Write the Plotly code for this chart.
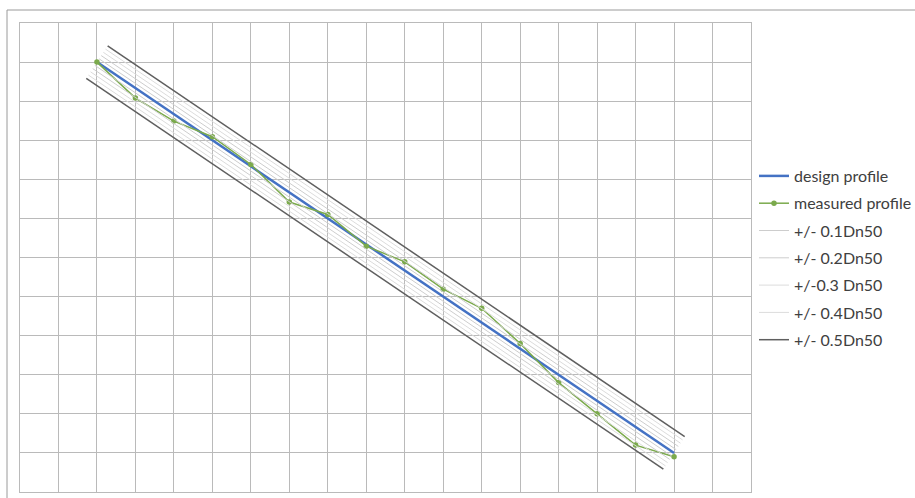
import math
import plotly.graph_objects as go

# ---- data ----
stations = [2, 3, 4, 5, 6, 7, 8, 9, 10, 11, 12, 13, 14, 15, 16, 17]
measured = [11.0, 10.08, 9.49, 9.09, 8.38, 7.42, 7.10, 6.29, 5.89, 5.19,
            4.70, 3.80, 2.80, 2.00, 1.20, 0.90]
design_x = [2, 17]
design_y = [11, 1]
band_offsets = [0.1, 0.2, 0.3, 0.4, 0.5]
band_names = ["+/- 0.1Dn50", "+/- 0.2Dn50", "+/-0.3 Dn50", "+/- 0.4Dn50", "+/- 0.5Dn50"]
band_colors = ["#cdcdcd", "#cdcdcd", "#dcdcdc", "#dcdcdc", "#5f5f5f"]
band_widths = [1, 1, 1, 1, 1.5]

fig = go.Figure()

fig.add_trace(go.Scatter(x=design_x, y=design_y, mode="lines", name="design profile",
                         line=dict(color="#4472C4", width=2.5), legendgroup="d"))
fig.add_trace(go.Scatter(x=stations, y=measured, mode="lines+markers", name="measured profile",
                         line=dict(color="#7BAA4C", width=1.5),
                         marker=dict(color="#7BAA4C", size=5.5), legendgroup="m"))

# perpendicular offset of design line
dx = design_x[1] - design_x[0]
dy = design_y[1] - design_y[0]
L = math.hypot(dx, dy)
nx, ny = -dy / L, dx / L  # unit normal pointing up-right
for off, nm, col, w in zip(band_offsets, band_names, band_colors, band_widths):
    for sgn in (1, -1):
        xs = [x + sgn * off * nx for x in design_x]
        ys = [y + sgn * off * ny for y in design_y]
        fig.add_trace(go.Scatter(x=xs, y=ys, mode="lines", name=nm,
                                 line=dict(color=col, width=w),
                                 legendgroup=nm, showlegend=(sgn == 1)))

grid = "#bababa"
fig.update_xaxes(range=[0, 19], dtick=1, tick0=0, showticklabels=False, ticks="",
                 showgrid=True, gridcolor=grid, gridwidth=1, zeroline=False,
                 showline=True, linecolor=grid, mirror=True)
fig.update_yaxes(range=[0, 12], dtick=1, tick0=0, showticklabels=False, ticks="",
                 showgrid=True, gridcolor=grid, gridwidth=1, zeroline=False,
                 showline=True, linecolor=grid, mirror=True)

fig.add_shape(type="rect", xref="paper", yref="paper",
              x0=(7 - 20) / 731, x1=1.4, y0=-0.1, y1=(492 - 10) / 469,
              line=dict(color="#9a9a9a", width=1), layer="below")

fig.update_layout(
    width=915, height=498,
    margin=dict(l=20, r=164, t=23, b=6, autoexpand=False),
    paper_bgcolor="white", plot_bgcolor="white",
    font=dict(family="Lato", size=16, color="#404040"),
    showlegend=True,
    legend=dict(x=(754 - 20) / 731, xanchor="left", y=(492 - 159) / 469, yanchor="top",
                traceorder="grouped", tracegroupgap=3.5, bgcolor="rgba(0,0,0,0)",
                font=dict(family="Lato", size=16, color="#404040")),
)

fig.write_html("out.html")
